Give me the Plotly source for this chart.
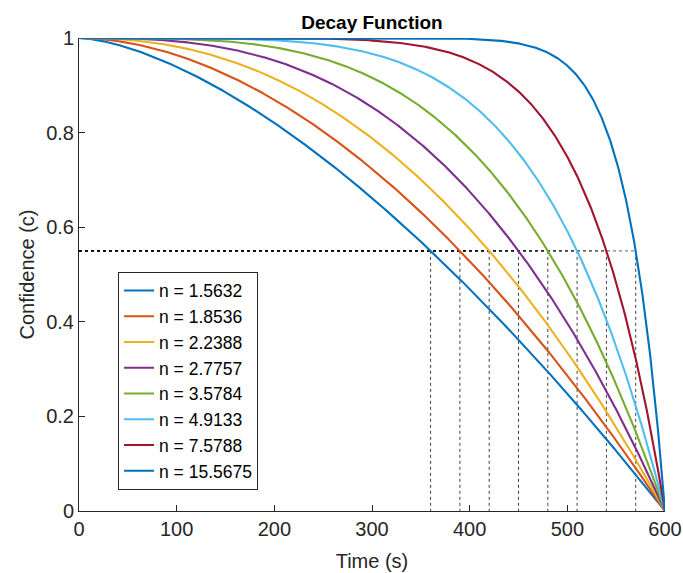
import numpy as np
import plotly.graph_objects as go

# Decay exponents (from legend)
n_values = [1.5632, 1.8536, 2.2388, 2.7757, 3.5784, 4.9133, 7.5788, 15.5675]
legend_labels = ["n = 1.5632", "n = 1.8536", "n = 2.2388", "n = 2.7757",
                 "n = 3.5784", "n = 4.9133", "n = 7.5788", "n = 15.5675"]
colors = ["#0072BD", "#D95319", "#EDB120", "#7E2F8E", "#77AC30", "#4DBEEE", "#A2142F", "#0072BD"]
T_max = 600
c_threshold = 0.55
# crossing times at the threshold
cross_times = [360, 390, 420, 450, 480, 510, 540, 570]
x_ticks = [0, 100, 200, 300, 400, 500, 600]
y_ticks = [0, 0.2, 0.4, 0.6, 0.8, 1]
y_ticktext = ["0", "0.2", "0.4", "0.6", "0.8", "1"]

t = np.linspace(0, T_max, 1201)

fig = go.Figure()

# guide lines (dotted)
for tc in cross_times:
    fig.add_trace(go.Scatter(x=[0, tc], y=[c_threshold, c_threshold], mode="lines",
                             line=dict(color="rgba(0,0,0,0.5)", width=1.3, dash="dot"),
                             showlegend=False, hoverinfo="skip"))
    fig.add_trace(go.Scatter(x=[tc, tc], y=[c_threshold, 0], mode="lines",
                             line=dict(color="rgba(0,0,0,0.75)", width=1, dash="dot"),
                             showlegend=False, hoverinfo="skip"))

for n, lab, col in zip(n_values, legend_labels, colors):
    c = 1 - (t / T_max) ** n
    fig.add_trace(go.Scatter(x=t, y=c, mode="lines", name=lab,
                             line=dict(color=col, width=2.1)))

font_family = "Liberation Sans, Arial, sans-serif"
axis_col = "#262626"
fig.update_layout(
    width=683, height=573,
    margin=dict(l=79, r=18, t=38, b=62, autoexpand=False),
    paper_bgcolor="white", plot_bgcolor="white",
    font=dict(family=font_family, color=axis_col, size=20),
    title=dict(text="<b>Decay Function</b>", x=0.5, xanchor="center", xref="paper",
               y=0.9616, yref="container", yanchor="middle",
               font=dict(size=19, color="black", family=font_family)),
    xaxis=dict(range=[0, 600], tickvals=x_ticks, automargin=False,
               ticks="inside", ticklen=6, tickcolor=axis_col, showgrid=False,
               zeroline=False, showline=True, linecolor=axis_col, linewidth=1,
               title=dict(text="Time (s)", font=dict(size=20), standoff=14),
               tickfont=dict(size=20)),
    yaxis=dict(range=[0, 1], tickvals=y_ticks, ticktext=y_ticktext, automargin=False,
               ticks="inside", ticklen=6, tickcolor=axis_col, showgrid=False,
               zeroline=False, showline=True, linecolor=axis_col, linewidth=1,
               title=dict(text="Confidence (c)", font=dict(size=20), standoff=6),
               tickfont=dict(size=20)),
    legend=dict(x=0.0666, y=0.506, xanchor="left", yanchor="top",
                bgcolor="white", bordercolor=axis_col, borderwidth=1,
                font=dict(size=17.5, color="black", family=font_family),
                itemwidth=30, tracegroupgap=0),
)

fig.write_html("out.html", config={"displayModeBar": False},
               post_script="document.body.style.margin='0';")
